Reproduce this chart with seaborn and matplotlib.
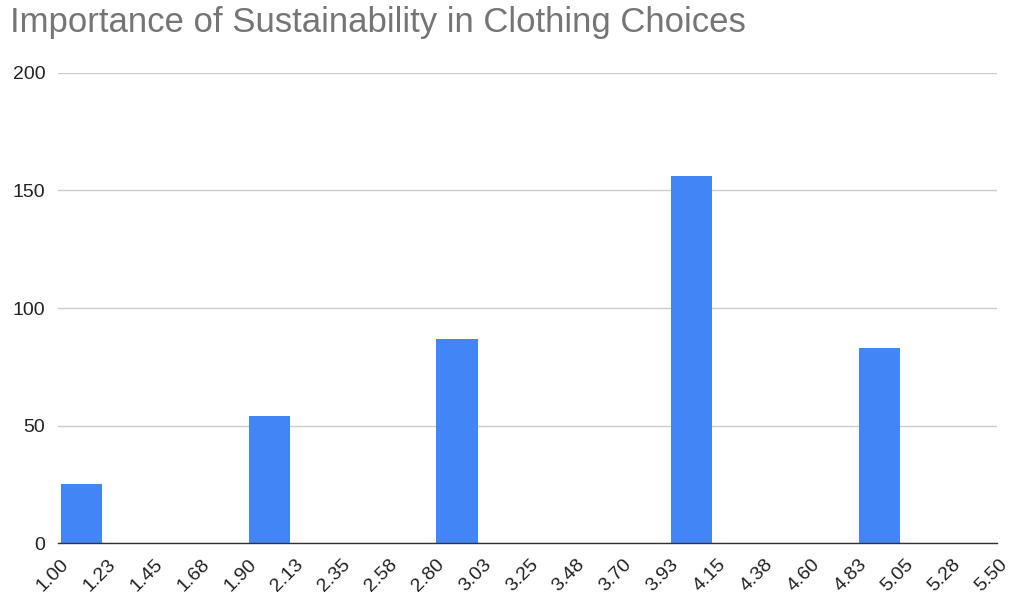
import numpy as np
import pandas as pd
import matplotlib
matplotlib.use("Agg")
import matplotlib.pyplot as plt
import matplotlib.transforms as mtransforms
import seaborn as sns

# Histogram bins (edges) and the response count in each bin
bin_edges = [1.000, 1.225, 1.450, 1.675, 1.900, 2.125, 2.350, 2.575, 2.800, 3.025,
             3.250, 3.475, 3.700, 3.925, 4.150, 4.375, 4.600, 4.825, 5.050, 5.275, 5.500]
edge_labels = ["1.00", "1.23", "1.45", "1.68", "1.90", "2.13", "2.35", "2.58", "2.80", "3.03",
               "3.25", "3.48", "3.70", "3.93", "4.15", "4.38", "4.60", "4.83", "5.05", "5.28", "5.50"]
bin_counts = [25, 0, 0, 0, 54, 0, 0, 0, 87, 0, 0, 0, 0, 156, 0, 0, 0, 83, 0, 0]
y_ticks = [0, 50, 100, 150, 200]

title = "Importance of Sustainability in Clothing Choices"
bar_color = "#4285F4"

edges = np.array(bin_edges)
df = pd.DataFrame({
    "center": (edges[:-1] + edges[1:]) / 2,
    "count": bin_counts,
})

sns.set_theme(style="white")
plt.rcParams["font.family"] = ["Liberation Sans", "DejaVu Sans"]

fig = plt.figure(figsize=(10.10, 5.96), dpi=100)
ax = fig.add_axes([0.0574, 0.0884, 0.9296, 0.7896])

sns.histplot(data=df, x="center", weights="count", bins=bin_edges, shrink=0.88,
             color=bar_color, alpha=1.0, edgecolor="none", linewidth=0, ax=ax, zorder=3)

ax.set_xlim(bin_edges[0], bin_edges[-1])
ax.set_ylim(0, 200)
ax.tick_params(axis="both", length=0)
ax.tick_params(axis="y", pad=9)
ax.tick_params(axis="x", pad=4)
ax.set_yticks(y_ticks)
ax.set_yticklabels([str(v) for v in y_ticks], fontsize=14, color="#222222")
ax.set_xticks(bin_edges)
ax.set_xticklabels(edge_labels, fontsize=14, color="#222222", rotation=45,
                   ha="right", va="center", rotation_mode="anchor")
offset = mtransforms.ScaledTranslation(8 / 100, -13 / 100, fig.dpi_scale_trans)
for lbl in ax.get_xticklabels():
    lbl.set_transform(lbl.get_transform() + offset)
ax.set_xlabel("")
ax.set_ylabel("")

ax.grid(axis="y", color="#cccccc", linewidth=1.0, zorder=0)
ax.grid(axis="x", visible=False)
for side in ["top", "right", "left"]:
    ax.spines[side].set_visible(False)
ax.spines["bottom"].set_color("#333333")
ax.spines["bottom"].set_linewidth(1.0)
ax.spines["bottom"].set_zorder(4)

fig.text(0.0099, 0.99, title, fontsize=25, color="#757575", ha="left", va="top")

fig.savefig("out.png", dpi=100)
